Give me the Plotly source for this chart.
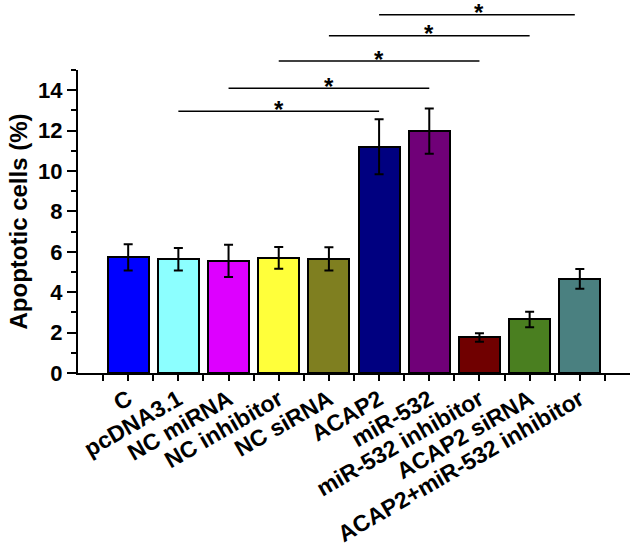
import plotly.graph_objects as go

categories = ["C", "pcDNA3.1", "NC miRNA", "NC inhibitor", "NC siRNA", "ACAP2",
              "miR-532", "miR-532 inhibitor", "ACAP2 siRNA", "ACAP2+miR-532 inhibitor"]
values = [5.72, 5.63, 5.55, 5.70, 5.65, 11.2, 11.97, 1.76, 2.65, 4.66]
errors = [0.65, 0.56, 0.80, 0.54, 0.58, 1.36, 1.12, 0.21, 0.38, 0.49]
colors = ["#0000FF", "#8CFFFF", "#DD00FF", "#FFFF3A", "#7F7F20",
          "#000080", "#700078", "#700000", "#4A7F20", "#4A8080"]

# significance brackets: (start index, end index, level in % units, star position)
sig_start = [1, 2, 3, 4, 5]
sig_end = [5, 6, 7, 8, 8.9]
sig_star = [3, 4, 5, 6, 7]
sig_level = [12.96, 14.1, 15.44, 16.7, 17.74]

y_max = 15
x_idx = list(range(len(categories)))

fig = go.Figure()
fig.add_trace(go.Bar(
    x=x_idx, y=values, width=0.82,
    marker=dict(color=colors, line=dict(color="black", width=2)),
    error_y=dict(type="data", array=errors, visible=True,
                 color="black", thickness=2, width=4.5),
    showlegend=False,
))

font_family = "Arial, Liberation Sans, sans-serif"

shapes = []
annotations = []
for s, e, st, lv in zip(sig_start, sig_end, sig_star, sig_level):
    shapes.append(dict(type="line", xref="x", yref="paper",
                       x0=s, x1=e, y0=lv / y_max, y1=lv / y_max,
                       line=dict(color="black", width=1.5)))
    annotations.append(dict(x=st, y=lv / y_max,
                            xref="x", yref="paper", text="<b>*</b>",
                            showarrow=False, yanchor="middle", yshift=2,
                            font=dict(family=font_family, size=24, color="black")))

fig.update_layout(
    width=634, height=550,
    margin=dict(l=78, r=4, t=70, b=177),
    paper_bgcolor="white", plot_bgcolor="white",
    shapes=shapes, annotations=annotations,
    font=dict(family=font_family, color="black"),
    bargap=0,
)
fig.update_xaxes(
    type="linear", range=[-1, 10], automargin=False,
    tickmode="array", tickvals=x_idx, ticktext=categories,
    tickangle=-30, ticklabelstandoff=-4,
    tickfont=dict(family=font_family, size=23, weight="bold", color="black"),
    showline=True, linecolor="black", linewidth=2,
    ticks="outside", ticklen=6, tickwidth=2, tickcolor="black",
    minor=dict(tickmode="linear", tick0=-0.5, dtick=1, ticks="outside",
               ticklen=6, tickwidth=2, tickcolor="black"),
    showgrid=False, zeroline=False,
)
fig.update_yaxes(
    range=[0, y_max], automargin=False,
    tickmode="linear", tick0=0, dtick=2,
    tickfont=dict(family=font_family, size=22, weight="bold", color="black"),
    title=dict(text="Apoptotic cells (%)",
               font=dict(family=font_family, size=24, weight="bold", color="black"),
               standoff=4),
    showline=True, linecolor="black", linewidth=2,
    ticks="outside", ticklen=9, tickwidth=2, tickcolor="black",
    minor=dict(tickmode="linear", tick0=1, dtick=2, ticks="outside",
               ticklen=5, tickwidth=2, tickcolor="black"),
    showgrid=False, zeroline=False,
)

fig.write_html("out.html", config={"displayModeBar": False},
               post_script="document.body.style.margin='0px';document.body.style.padding='0px';")
